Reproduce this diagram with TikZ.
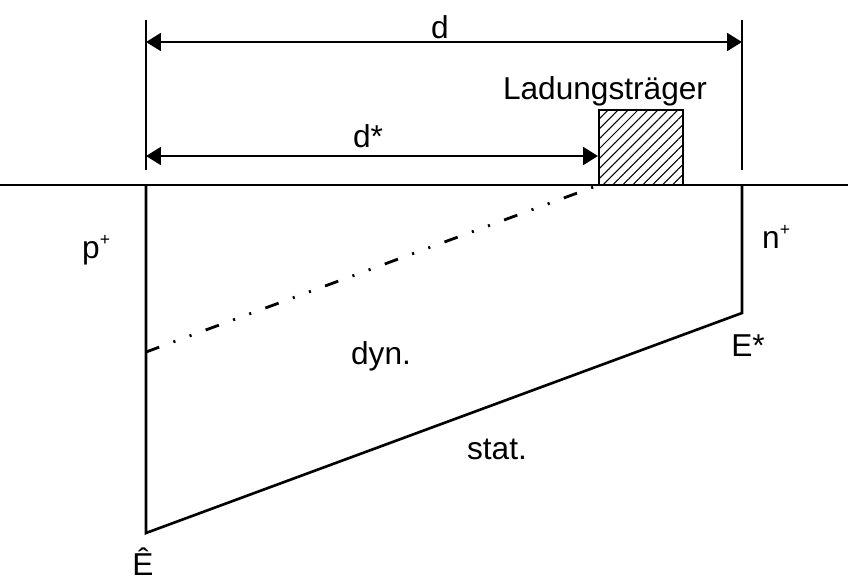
\documentclass[tikz,border=0pt]{standalone}
\usepackage{fontspec}
\setmainfont{Liberation Sans}
\usetikzlibrary{
    patterns.meta,
    calc,
    arrows.meta
}
\tikzset{
  every path/.style={
    black,
    line width=0.75pt
  },
  every node/.style={
    inner sep=1.5pt,
    font=\fontsize{9}{11}\selectfont
  },
  dimarrow/.style={
    {Triangle[length=4.2pt,width=5pt]}-{Triangle[length=4.2pt,width=5pt]}
  },
  dashdotdot/.style={
    line width=0.8pt,
    dash pattern=on 4pt off 4.3pt on 0.6pt off 4.3pt on 0.6pt off 4.3pt
  }
}
\newcommand{\plussup}{\textsuperscript{\fontsize{5}{6}\selectfont +}}

\begin{document}
\begin{tikzpicture}
    \useasboundingbox (0,0) rectangle (8.48,-5.79);
    %-------------------------
    %Punkte
    %-------------------------
    \coordinate (ltop) at (1.46,-0.20);
    \coordinate (lbot) at (1.46,-1.70);
    \coordinate (rtop) at (7.42,-0.20);
    \coordinate (rbot) at (7.42,-1.70);
    \coordinate (west) at (0,-1.85);
    \coordinate (east) at (8.48,-1.85);
    \coordinate (pl) at (1.46,-1.85);
    \coordinate (nr) at (7.42,-1.85);
    \coordinate (ehat) at (1.46,-5.33);
    \coordinate (estar) at (7.42,-3.13);
    \coordinate (edyn) at (1.46,-3.52);
    \coordinate (da) at (1.46,-0.42);
    \coordinate (db) at (7.42,-0.42);
    \coordinate (dsa) at (1.46,-1.56);
    \coordinate (dsb) at (5.98,-1.56);
    \coordinate (boxa) at (5.99,-1.10);
    \coordinate (boxb) at (6.83,-1.85);

    %-------------------------
    %Linien
    %-------------------------
    \draw (ltop) -- (lbot);
    \draw (rtop) -- (rbot);
    \draw (west) -- (east);
    \draw (pl) -- (ehat) -- (estar) -- (nr);
    \draw[dashdotdot] (edyn) -- (boxa |- boxb);

    \draw[pattern={Lines[angle=45,distance=2pt,line width=0.3pt]}] (boxa) rectangle (boxb);

    \draw[dimarrow] (da) -- (db);
    \draw[dimarrow] (dsa) -- (dsb);

    %-------------------------
    %Beschriftung
    %-------------------------
    \node (d) at (4.40,-0.27) {d};
    \node (dstar) at (3.68,-1.36) {d*};
    \node (ladung) at (6.05,-0.91) {Ladungsträger};
    \node (p) at (0.97,-2.50) {p\plussup};
    \node (n) at (7.77,-2.37) {n\plussup};
    \node (estarl) at (7.48,-3.46) {E*};
    \node (ehatl) at (1.43,-5.62) {Ê};
    \node (dyn) at (3.81,-3.56) {dyn.};
    \node (stat) at (4.97,-4.49) {stat.};

    \end{tikzpicture}
\end{document}
